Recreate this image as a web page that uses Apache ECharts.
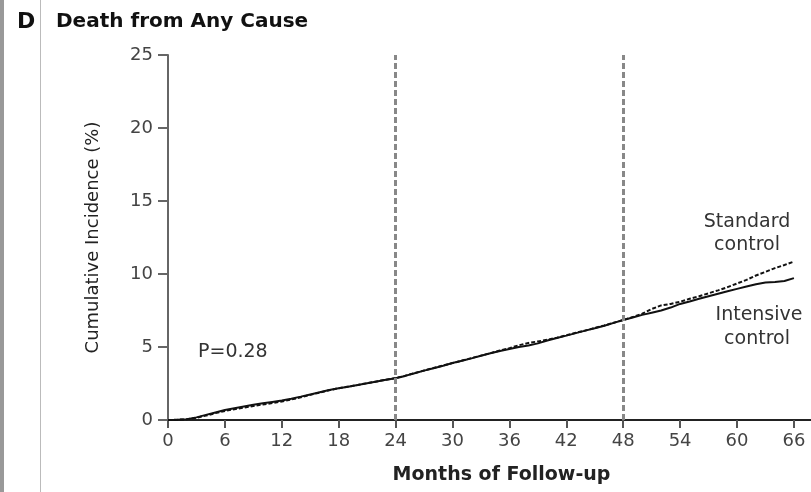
<!DOCTYPE html>
<html><head><meta charset="utf-8">
<script src="https://cdn.jsdelivr.net/npm/echarts@6/dist/echarts.min.js"></script>
<style>html,body{margin:0;padding:0;background:#fff}#c{width:811px;height:492px}</style>
</head><body><div id="c"></div>
<script>
var months = [0,1,2,3,4,5,6,7,8,9,10,11,12,13,14,15,16,17,18,19,20,21,22,23,24,25,26,27,28,29,30,31,32,33,34,35,36,37,38,39,40,41,42,43,44,45,46,47,48,49,50,51,52,53,54,55,56,57,58,59,60,61,62,63,64,65,66];
var intensive = [0,0.02,0.06,0.18,0.35,0.52,0.68,0.8,0.92,1.04,1.14,1.24,1.34,1.46,1.6,1.75,1.9,2.05,2.18,2.28,2.39,2.51,2.63,2.75,2.86,3.02,3.2,3.38,3.55,3.72,3.9,4.06,4.22,4.4,4.57,4.72,4.86,5.0,5.1,5.25,5.45,5.62,5.78,5.95,6.12,6.28,6.45,6.65,6.85,7.02,7.2,7.35,7.5,7.7,7.95,8.12,8.3,8.48,8.65,8.82,8.98,9.14,9.3,9.42,9.46,9.52,9.72];
var standard = [0,0.02,0.05,0.15,0.3,0.47,0.62,0.74,0.85,0.96,1.06,1.16,1.27,1.4,1.55,1.72,1.88,2.04,2.18,2.29,2.4,2.52,2.64,2.76,2.87,3.03,3.21,3.39,3.56,3.73,3.9,4.07,4.24,4.41,4.58,4.76,4.92,5.12,5.28,5.38,5.5,5.64,5.8,5.97,6.13,6.3,6.47,6.66,6.85,7.05,7.28,7.6,7.85,7.95,8.1,8.3,8.48,8.68,8.88,9.1,9.35,9.6,9.9,10.15,10.4,10.62,10.85];
var xTicks = [0,6,12,18,24,30,36,42,48,54,60,66];
var refLines = [24,48];

var FONT = '"DejaVu Sans", "Open Sans", sans-serif';
function pairs(ys){ return months.map(function(m,i){ return [m, ys[i]]; }); }
function txt(x, y, s, size, weight, color, align){
  return {type:'text', x:x, y:y, silent:true,
    style:{text:s, font:(weight||'normal')+' '+size+'px '+FONT, fill:color, align:align||'left', verticalAlign:'middle'}};
}

var chart = echarts.init(document.getElementById('c'), null, {renderer:'canvas'});
chart.setOption({
  animation:false,
  backgroundColor:'#fff',
  grid:{left:168, right:0, top:55, bottom:72, containLabel:false},
  xAxis:{
    type:'value', min:0, max:67.8,
    axisLine:{show:true, onZero:false, lineStyle:{color:'#222', width:2}},
    axisTick:{show:true, length:8, customValues:xTicks, lineStyle:{color:'#555', width:2}},
    axisLabel:{customValues:xTicks, color:'#444', fontFamily:FONT, fontSize:18, margin:12},
    splitLine:{show:false},
    name:'Months of Follow-up', nameLocation:'middle', nameGap:46,
    nameTextStyle:{color:'#222', fontFamily:FONT, fontWeight:'bold', fontSize:19, padding:[0,0,0,24]}
  },
  yAxis:{
    type:'value', min:0, max:25, interval:5,
    axisLine:{show:true, lineStyle:{color:'#666', width:2}},
    axisTick:{show:true, length:10, lineStyle:{color:'#666', width:2}},
    axisLabel:{color:'#444', fontFamily:FONT, fontSize:18, margin:15},
    splitLine:{show:false},
    name:'Cumulative Incidence (%)', nameLocation:'middle', nameGap:66,
    nameTextStyle:{color:'#222', fontFamily:FONT, fontSize:18}
  },
  series:[
    {
      name:'Intensive control', type:'line', data:pairs(intensive), showSymbol:false,
      lineStyle:{color:'#111', width:2}, z:3,
      markLine:{
        silent:true, symbol:'none', label:{show:false},
        lineStyle:{color:'#888', width:3, type:[6,3]},
        data:refLines.map(function(v){ return {xAxis:v}; })
      }
    },
    {
      name:'Standard control', type:'line', data:pairs(standard), showSymbol:false,
      lineStyle:{color:'#111', width:2, type:[4,2]}, z:4
    }
  ],
  graphic:[
    {type:'rect', left:0, top:0, silent:true, shape:{width:4, height:492}, style:{fill:'#999'}},
    {type:'rect', left:40, top:0, silent:true, shape:{width:1, height:492}, style:{fill:'#bbb'}},
    txt(17, 22, 'D', 22, 'bold', '#111'),
    txt(56, 22, 'Death from Any Cause', 20, 'bold', '#111'),
    txt(198, 352, 'P=0.28', 19, 'normal', '#333'),
    txt(747, 222, 'Standard', 19, 'normal', '#333', 'center'),
    txt(747, 245, 'control', 19, 'normal', '#333', 'center'),
    txt(759, 315, 'Intensive', 19, 'normal', '#333', 'center'),
    txt(757, 339, 'control', 19, 'normal', '#333', 'center')
  ]
});
</script></body></html>
